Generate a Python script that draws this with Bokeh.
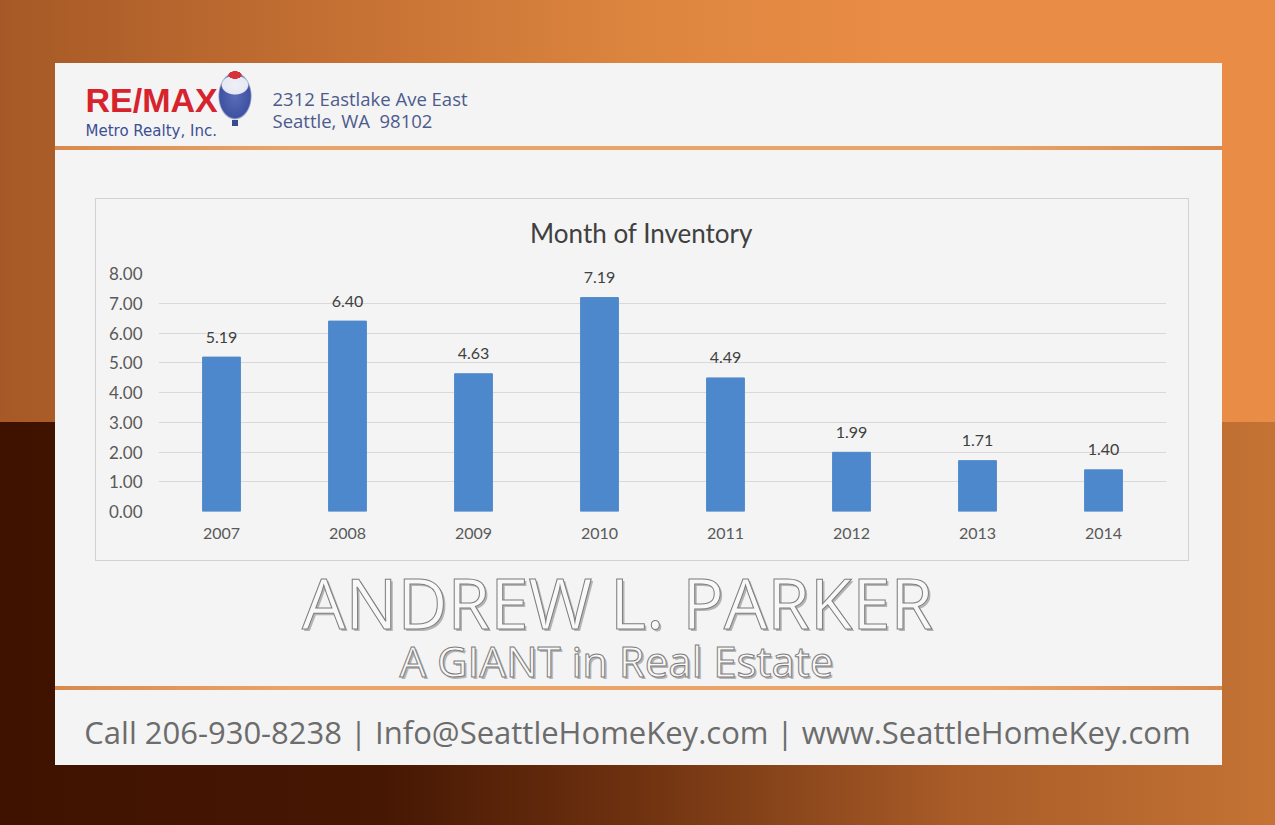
from bokeh.plotting import figure
from bokeh.models import (FactorRange, Range1d, ColumnDataSource,
                          FixedTicker, NumeralTickFormatter)
from bokeh.core.properties import value
from bokeh.embed import file_html
from bokeh.resources import INLINE

# ---- data ----
years = ["2007", "2008", "2009", "2010", "2011", "2012", "2013", "2014"]
months_inventory = [5.19, 6.40, 4.63, 7.19, 4.49, 1.99, 1.71, 1.40]
y_ticks = [0, 1, 2, 3, 4, 5, 6, 7, 8]
chart_title = "Month of Inventory"
logo_text = "RE/MAX"
logo_sub = "Metro Realty, Inc."
address_lines = ["2312 Eastlake Ave East", "Seattle, WA\u00a0 98102"]
agent_name = "ANDREW L. PARKER"
tagline = "A GIANT in Real Estate"
footer = "Call 206-930-8238 | Info@SeattleHomeKey.com | www.SeattleHomeKey.com"

W, H = 1275, 825
FL, FR, FT, FB = 158, 1166, 273, 511   # frame edges in page pixels
UNIT = (FR - FL) / len(years)          # pixels per category

p = figure(width=W, height=H, x_range=FactorRange(factors=years, range_padding=0),
           y_range=Range1d(0, 8), output_backend="svg", toolbar_location=None,
           min_border_left=FL, min_border_right=W - FR, min_border_top=FT,
           min_border_bottom=H - FB)
p.title.visible = False
p.extra_y_ranges = {"py": Range1d(FB, FT)}

p.background_fill_alpha = 0
p.border_fill_alpha = 0
p.outline_line_color = None

def solid(c, x, y, w, h):
    return f"linear-gradient({c},{c}) {x}px {y}px / {w}px {h}px no-repeat"

full = f"0 0 / {W}px {H}px no-repeat"
layers = [
    # chart box border
    solid("#d2d2d2", 95, 198, 1094, 1),
    solid("#d2d2d2", 95, 560, 1094, 1),
    solid("#d2d2d2", 95, 198, 1, 363),
    solid("#d2d2d2", 1188, 198, 1, 363),
    # orange separator lines
    "linear-gradient(to right, #d98a4c, #eaa468 20%, #eaa468 80%, #d98a4c) 55px 146px / 1167px 4px no-repeat",
    "linear-gradient(to right, #d98a4c, #eaa468 20%, #eaa468 80%, #d98a4c) 55px 686px / 1167px 4px no-repeat",
    # balloon
    "radial-gradient(ellipse 7px 4px at 235px 75px, #d8323a 0%, #d8323a 90%, rgba(0,0,0,0) 100%) " + full,
    "radial-gradient(ellipse 14px 10px at 235px 85px, #eef0f6 0%, #e6e9f2 90%, rgba(0,0,0,0) 100%) " + full,
    "radial-gradient(ellipse 17px 24px at 235px 96px, #5a6cb8 0%, #3f52a2 90%, rgba(0,0,0,0) 100%) " + full,
    solid("#3a4a8a", 232, 120, 6, 6),
    # card
    solid("#f4f4f4", 55, 63, 1167, 702),
    # outer background
    "linear-gradient(to right, #a65926 0%, #c36f33 25%, #dc853f 50%, #e98c45 70%, #e98c45 100%) 0 0 / 1275px 422px no-repeat",
    "linear-gradient(to right, #3f1200 0%, #461703 30%, #6f3210 50%, #a95c28 75%, #c47334 100%) 0 422px / 1275px 403px no-repeat",
]
p.styles = {"background": ", ".join(layers)}

src = ColumnDataSource(dict(year=years, val=months_inventory,
                            txt=[f"{v:.2f}" for v in months_inventory]))
p.vbar(x="year", top="val", width=0.30, source=src, color="#4e88cc")
# value labels (overlay level so the top one is not clipped)
p.text(x="year", y="val", text="txt", source=src, y_offset=-20,
       text_align="center", text_baseline="middle",
       text_font=value("Lato"), text_font_size="16px", text_color="#404040",
       level="overlay")

# axes
p.yaxis.ticker = FixedTicker(ticks=y_ticks)
p.yaxis.formatter = NumeralTickFormatter(format="0.00")
for ax in (p.xaxis[0], p.yaxis[0]):
    ax.axis_line_color = None
    ax.major_tick_line_color = None
    ax.minor_tick_line_color = None
    ax.major_tick_out = 0
    ax.major_tick_in = 0
    ax.major_label_text_font = "Lato"
    ax.major_label_text_font_size = "16px"
    ax.major_label_text_color = "#595959"
p.yaxis.major_label_text_font_size = "17px"
p.yaxis.major_label_standoff = 16
p.xaxis.major_label_standoff = 16
p.xgrid.grid_line_color = None
p.ygrid.grid_line_color = "#d9d9d9"
p.ygrid.grid_line_width = 1

def txt(s, x, y, size, color, font="Open Sans", align="left", style="normal", **kw):
    p.text(x=[(x - FL) / UNIT], y=[y], text=[s], y_range_name="py",
           text_font=value(font), text_font_size=size, text_color=color,
           text_align=align, text_baseline="middle", text_font_style=style,
           level="overlay", **kw)

txt(chart_title, 641, 232, "26px", "#404040", font="Lato", align="center")

# header
txt(logo_text, 85, 99, "34px", "#d7232e", font="Liberation Sans", style="bold")
txt(logo_sub, 85, 130, "15px", "#3b4f95", font="DejaVu Sans")
txt(address_lines[0], 272, 98, "18.5px", "#4d5b8c")
txt(address_lines[1], 272, 120, "18.5px", "#4d5b8c")

# name & tagline
txt(agent_name, 619, 603, "69px", "#b4b4b4", align="center")
txt(agent_name, 617, 601, "69px", "#f8f8f8", align="center",
    text_outline_color="#7d7d7d")
txt(tagline, 618, 662, "42px", "#b4b4b4", align="center")
txt(tagline, 616, 660, "42px", "#f8f8f8", align="center",
    text_outline_color="#7d7d7d")

# footer
txt(footer, 637, 731, "31px", "#6c6c6c", align="center")

open("out.html", "w").write(file_html(p, INLINE))
